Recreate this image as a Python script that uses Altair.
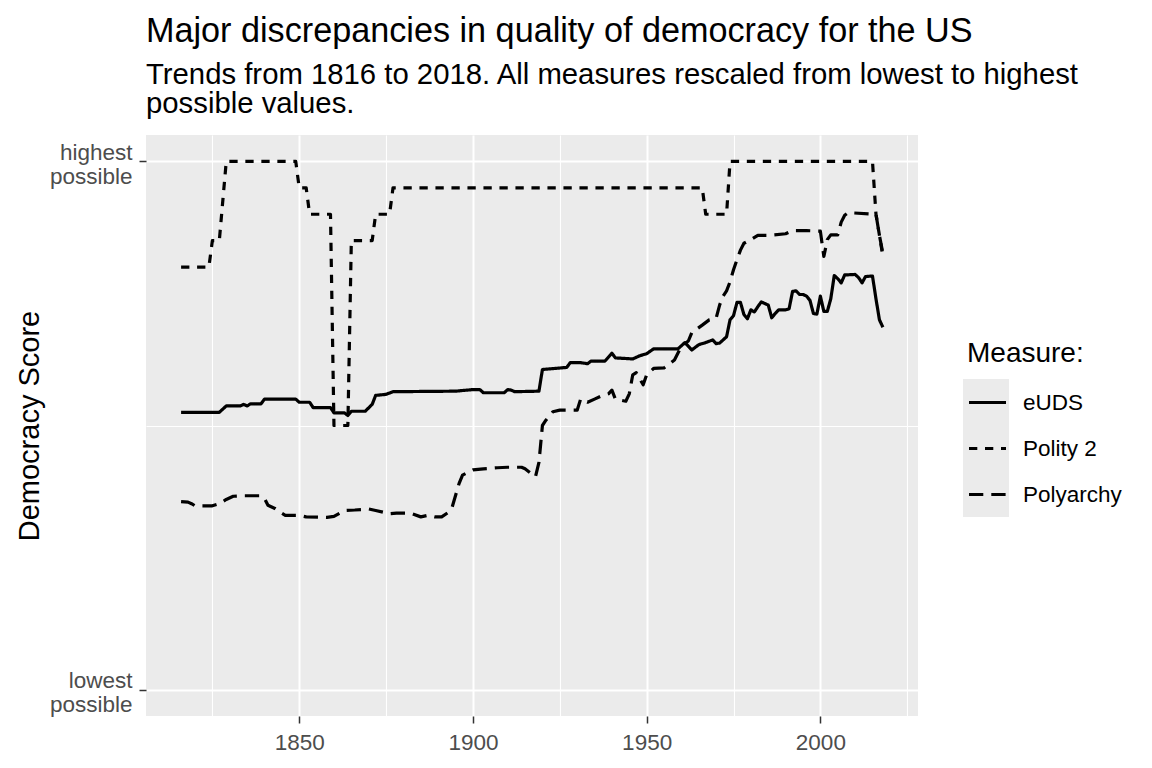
import altair as alt
import pandas as pd

measures = ["eUDS", "Polity 2", "Polyarchy"]

eu_years = [1816, 1827, 1829, 1833, 1834, 1835, 1836, 1839, 1840, 1849, 1850, 1853, 1854, 1859,
            1860, 1863, 1864, 1865, 1869, 1871, 1872, 1875, 1877, 1895, 1900, 1902, 1903, 1909,
            1910, 1911, 1912, 1919, 1920, 1927, 1928, 1931, 1933, 1934, 1938, 1940, 1941, 1946,
            1948, 1950, 1952, 1959, 1961, 1963, 1965, 1967, 1969, 1970, 1971, 1972, 1973, 1974,
            1975, 1976, 1977, 1978, 1979, 1980, 1981, 1982, 1983, 1984, 1985, 1986, 1987, 1988,
            1990, 1991, 1992, 1993, 1994, 1995, 1996, 1997, 1998, 1999, 2000, 2001, 2002, 2003,
            2004, 2005, 2006, 2007, 2010, 2011, 2012, 2013, 2015, 2016, 2017, 2018]
eu_vals = [0.525, 0.525, 0.537, 0.537, 0.540, 0.537, 0.541, 0.541, 0.550, 0.550, 0.544, 0.544,
           0.534, 0.534, 0.524, 0.524, 0.519, 0.527, 0.527, 0.540, 0.557, 0.559, 0.564, 0.565,
           0.568, 0.568, 0.562, 0.562, 0.568, 0.567, 0.564, 0.565, 0.606, 0.610, 0.619, 0.619,
           0.617, 0.622, 0.622, 0.637, 0.628, 0.626, 0.632, 0.636, 0.645, 0.645, 0.657, 0.643,
           0.653, 0.657, 0.662, 0.655, 0.656, 0.662, 0.668, 0.700, 0.708, 0.733, 0.733, 0.710,
           0.702, 0.719, 0.715, 0.725, 0.734, 0.731, 0.728, 0.704, 0.712, 0.719, 0.719, 0.721,
           0.754, 0.755, 0.748, 0.748, 0.745, 0.737, 0.712, 0.711, 0.745, 0.716, 0.716, 0.740,
           0.784, 0.778, 0.770, 0.785, 0.786, 0.780, 0.770, 0.782, 0.783, 0.740, 0.700, 0.686]

po_years = [1816, 1824, 1825, 1827, 1829, 1849, 1850, 1852, 1853, 1859, 1860, 1864, 1865, 1871,
            1872, 1876, 1877, 1966, 1967, 1973, 1974, 2015, 2016, 2017, 2018]
po_vals = [0.80, 0.80, 0.85, 0.85, 1.00, 1.00, 0.95, 0.95, 0.90, 0.90, 0.50, 0.50, 0.85, 0.85,
           0.90, 0.90, 0.95, 0.95, 0.90, 0.90, 1.00, 1.00, 0.90, 0.86, 0.82]

py_years = [1816, 1818, 1819, 1820, 1825, 1827, 1829, 1831, 1834, 1839, 1840, 1841, 1843, 1845,
            1846, 1850, 1852, 1858, 1860, 1863, 1866, 1870, 1872, 1876, 1878, 1882, 1885, 1887,
            1889, 1891, 1893, 1894, 1896, 1897, 1900, 1903, 1907, 1910, 1914, 1915, 1916, 1918,
            1919, 1920, 1921, 1923, 1925, 1930, 1931, 1933, 1935, 1937, 1939, 1940, 1941, 1944,
            1945, 1946, 1947, 1949, 1950, 1952, 1955, 1958, 1960, 1962, 1963, 1966, 1968, 1970,
            1971, 1972, 1973, 1974, 1975, 1976, 1977, 1978, 1980, 1982, 1985, 1990, 1992, 1996,
            2000, 2001, 2002, 2003, 2005, 2006, 2007, 2008, 2016, 2017, 2018]
py_vals = [0.356, 0.355, 0.352, 0.348, 0.348, 0.352, 0.360, 0.366, 0.367, 0.367, 0.362, 0.349,
           0.343, 0.334, 0.330, 0.330, 0.327, 0.326, 0.328, 0.339, 0.340, 0.342, 0.339, 0.333,
           0.334, 0.334, 0.327, 0.330, 0.327, 0.327, 0.336, 0.345, 0.390, 0.406, 0.416, 0.418,
           0.420, 0.421, 0.421, 0.418, 0.413, 0.403, 0.430, 0.500, 0.510, 0.526, 0.529, 0.529,
           0.550, 0.544, 0.550, 0.556, 0.560, 0.567, 0.550, 0.546, 0.560, 0.596, 0.600, 0.577,
           0.596, 0.608, 0.609, 0.624, 0.650, 0.660, 0.676, 0.690, 0.700, 0.703, 0.728, 0.745,
           0.755, 0.772, 0.795, 0.814, 0.832, 0.845, 0.852, 0.860, 0.860, 0.863, 0.869, 0.869,
           0.868, 0.820, 0.852, 0.861, 0.861, 0.885, 0.898, 0.903, 0.900, 0.860, 0.825]

x_tick_values = [1825, 1850, 1875, 1900, 1925, 1950, 1975, 2000, 2025]
y_tick_values = [0, 0.5, 1]

title_text = "Major discrepancies in quality of democracy for the US"
subtitle_lines = ["Trends from 1816 to 2018. All measures rescaled from lowest to highest",
                  "possible values."]

FONT = "Liberation Sans"

rows = []
for name, ys, vs in [(measures[0], eu_years, eu_vals),
                     (measures[1], po_years, po_vals),
                     (measures[2], py_years, py_vals)]:
    for y, v in zip(ys, vs):
        rows.append({"measure": name, "year": y, "value": v})
df = pd.DataFrame(rows)
keys_df = pd.DataFrame({"measure": measures})

x_axis = alt.Axis(
    values=x_tick_values, format="d",
    labelExpr="datum.value % 50 == 0 ? datum.label : ''",
    grid=True, gridColor="white",
    gridWidth={"condition": {"test": "datum.value % 50 == 0", "value": 2.0}, "value": 1.1},
    tickOpacity={"condition": {"test": "datum.value % 50 == 0", "value": 1}, "value": 0},
    tickSize=7, tickWidth=1.5, tickColor="#333333",
    labelFontSize=22.5, labelColor="#4D4D4D", labelFont=FONT, labelPadding=8,
    domain=False, title=None,
)
y_axis = alt.Axis(
    values=y_tick_values,
    labelExpr="datum.value == 1 ? ['highest', 'possible'] : (datum.value == 0 ? ['lowest', 'possible'] : '')",
    grid=True, gridColor="white",
    gridWidth={"condition": {"test": "datum.value == 0.5", "value": 1.1}, "value": 2.0},
    tickOpacity={"condition": {"test": "datum.value == 0.5", "value": 0}, "value": 1},
    tickSize=7, tickWidth=1.5, tickColor="#333333",
    labelFontSize=22.5, labelColor="#4D4D4D", labelFont=FONT, labelPadding=7,
    labelAlign="right", labelBaseline="alphabetic", labelLineHeight=24.7, labelOffset=-2.4,
    domain=False,
    title="Democracy Score", titleFontSize=29, titleFont=FONT, titleFontWeight="normal",
    titleColor="black", titleAngle=270, titleX=-117, titleY=290.5,
    titleBaseline="middle", titleAlign="center",
)

dash_legend = alt.Legend(
    title="Measure:", orient="none", legendX=821, legendY=205,
    symbolType="stroke", symbolSize=1369, symbolStrokeWidth=3.2, symbolStrokeColor="black",
    symbolOffset=0, labelFontSize=22.5, labelColor="black", labelFont=FONT, labelOffset=15,
    titleFontSize=28, titleFont=FONT, titleFontWeight="normal", titleColor="black",
    titlePadding=14, rowPadding=14, padding=0, zindex=2,
)
key_legend = alt.Legend(
    title=None, orient="none", legendX=817, legendY=244,
    symbolType="square", symbolSize=2116, symbolStrokeWidth=0, symbolOpacity=1,
    symbolOffset=0, labelExpr="''", labelFontSize=1, labelOffset=0,
    rowPadding=0, padding=0, zindex=1,
)

keys = alt.Chart(keys_df).mark_square(opacity=0).encode(
    fill=alt.Fill("measure:N", scale=alt.Scale(range=["#EBEBEB", "#EBEBEB", "#EBEBEB"]),
                  legend=key_legend)
)

lines = alt.Chart(df).mark_line(color="black", strokeWidth=3.2, strokeJoin="round").encode(
    x=alt.X("year:Q", scale=alt.Scale(domain=[1805.9, 2028.1], nice=False, zero=False), axis=x_axis),
    y=alt.Y("value:Q", scale=alt.Scale(domain=[-0.05, 1.05], nice=False, zero=False), axis=y_axis),
    strokeDash=alt.StrokeDash("measure:N",
                              scale=alt.Scale(domain=measures,
                                              range=[[1, 0], [8.3, 7.7], [14.3, 8]]),
                              legend=dash_legend),
)

chart = alt.layer(keys, lines).properties(
    width=772, height=581,
    autosize=alt.AutoSizeParams(type="none"),
    padding={"left": 138, "top": 127, "right": 220, "bottom": 52},
    background="white",
    title=alt.TitleParams(
        text=title_text, subtitle=subtitle_lines, anchor="start", frame="group",
        fontSize=34.2, fontWeight="normal", font=FONT, color="black",
        subtitleFontSize=29.3, subtitleFont=FONT, subtitleColor="black",
        subtitleLineHeight=29.3, subtitlePadding=12, offset=15.4,
    ),
).configure_view(fill="#EBEBEB", strokeWidth=0)

chart.save("out.html", embed_options={"renderer": "svg", "actions": False})
